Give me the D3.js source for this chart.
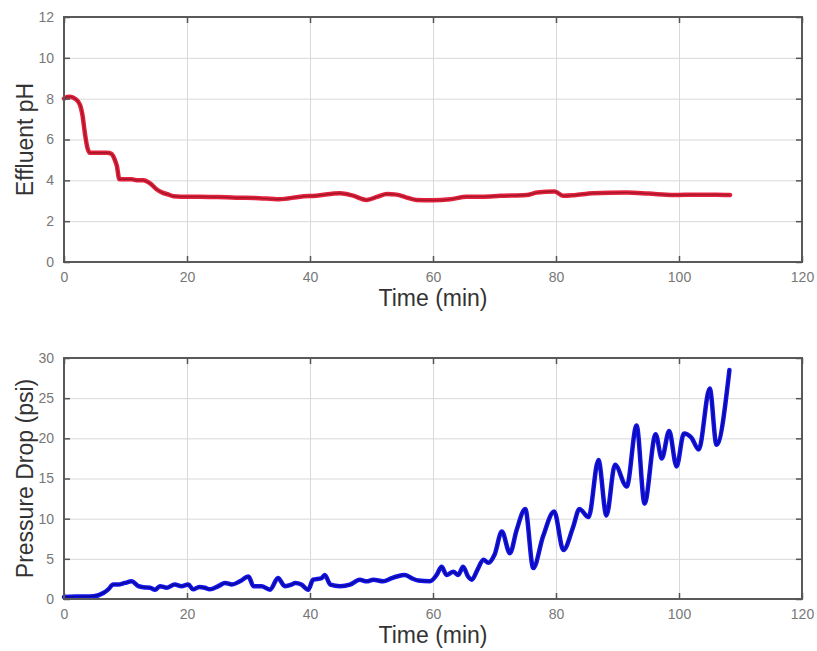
<!DOCTYPE html>
<html>
<head>
<meta charset="utf-8">
<script src="https://cdn.jsdelivr.net/npm/d3@7"></script>
<style>
  body { margin: 0; background: #fff; }
  svg { display: block; font-family: "Liberation Sans", Arial, sans-serif; }
</style>
</head>
<body>
<script>
// effluent pH readings
const phTime = [0, 0.5, 1, 1.8, 2.6, 3.0, 3.4, 3.8, 4.2, 5, 6, 7, 7.7, 8.2, 8.6, 9.0, 10, 11, 12, 12.9,
  14, 15.1, 16, 17, 17.8, 19, 22, 25, 28, 31, 35, 38.4, 41, 44.9, 47, 49.2, 51, 52.5, 54.1, 55.5,
  57.3, 60, 62.8, 65.5, 68, 71, 75.2, 76.9, 79.8, 81.2, 83, 86, 91.5, 95, 99.1, 103, 106, 108.3];
const phValue = [8.0, 8.08, 8.1, 8.0, 7.7, 7.2, 6.3, 5.6, 5.35, 5.35, 5.35, 5.35, 5.3, 5.05, 4.7, 4.05, 4.05, 4.05, 4.0, 4.0,
  3.85, 3.55, 3.4, 3.3, 3.22, 3.2, 3.2, 3.18, 3.15, 3.14, 3.07, 3.2, 3.25, 3.37, 3.25, 3.04, 3.2, 3.33, 3.3, 3.18,
  3.04, 3.02, 3.07, 3.2, 3.2, 3.24, 3.28, 3.4, 3.45, 3.24, 3.27, 3.37, 3.4, 3.35, 3.28, 3.3, 3.3, 3.28];

// pressure drop readings
const dpTime = [0, 2, 4.8, 6.4, 7.2, 8, 8.8, 9.9, 11, 12.1, 12.9, 14, 14.8, 15.6, 16.7, 18, 19.1, 20.2, 21, 22,
  22.9, 23.7, 25.1, 26.2, 27.3, 28.6, 30, 30.8, 32.1, 33.5, 34.8, 35.9, 37, 37.6, 38.6, 39.7, 40.5, 41.9, 42.4, 43.3,
  44.9, 46.5, 48.1, 49.2, 50.3, 51.9, 53.3, 54.1, 55.4, 56.5, 57.6, 59.5, 60.6, 61.4, 62.2, 63.3, 64.1, 64.9, 65.7, 66.3,
  67.2, 68.2, 69, 70, 71.2, 72.5, 73.6, 75, 76.3, 77.9, 79.7, 81.2, 82.8, 83.8, 85.3, 86.9, 88.2, 89.6, 91.5, 93.1,
  94.4, 96.2, 97.2, 98.4, 99.6, 100.8, 102, 103.2, 105, 106.1, 108.2];
const dpValue = [0.25, 0.3, 0.35, 0.75, 1.2, 1.8, 1.8, 2.0, 2.2, 1.6, 1.45, 1.4, 1.15, 1.6, 1.4, 1.8, 1.6, 1.8, 1.2, 1.5,
  1.4, 1.2, 1.6, 2.0, 1.8, 2.2, 2.8, 1.6, 1.6, 1.15, 2.6, 1.6, 1.8, 2.0, 1.8, 1.15, 2.4, 2.6, 3.0, 1.8,
  1.6, 1.8, 2.4, 2.2, 2.4, 2.2, 2.6, 2.8, 3.0, 2.6, 2.3, 2.2, 3.0, 4.0, 3.0, 3.4, 3.0, 4.0, 2.8, 2.4,
  3.6, 4.9, 4.5, 5.5, 8.4, 5.7, 8.6, 11.2, 3.85, 7.8, 10.9, 6.1, 9.0, 11.2, 10.2, 17.3, 10.4, 16.7, 14.0, 21.6,
  11.9, 20.5, 17.5, 20.9, 16.5, 20.6, 20.1, 18.6, 26.2, 19.2, 28.5];

// tick labels
const timeTicks = [0, 20, 40, 60, 80, 100, 120];
const phTicks = [0, 2, 4, 6, 8, 10, 12];
const dpTicks = [0, 5, 10, 15, 20, 25, 30];

const width = 817, height = 651;
const svg = d3.select("body").append("svg")
  .attr("width", width)
  .attr("height", height)
  .attr("viewBox", [0, 0, width, height]);

function drawPanel(p) {
  const x = d3.scaleLinear().domain([0, 120]).range([p.left, p.right]);
  const y = d3.scaleLinear().domain([0, p.yMax]).range([p.bottom, p.top]);
  const g = svg.append("g");

  // grid
  g.append("g")
    .attr("transform", `translate(0,${p.bottom})`)
    .call(d3.axisBottom(x).tickValues(timeTicks).tickSize(-(p.bottom - p.top)).tickFormat(""))
    .call(a => a.select(".domain").remove())
    .call(a => a.selectAll(".tick line").attr("stroke", "#d8d8d8").attr("stroke-width", 1));
  g.append("g")
    .attr("transform", `translate(${p.left},0)`)
    .call(d3.axisLeft(y).tickValues(p.yTicks).tickSize(-(p.right - p.left)).tickFormat(""))
    .call(a => a.select(".domain").remove())
    .call(a => a.selectAll(".tick line").attr("stroke", "#d8d8d8").attr("stroke-width", 1));

  // the data line
  const line = d3.line()
    .x((d, i) => x(p.tx[i]))
    .y(d => y(d))
    .curve(d3.curveMonotoneX);
  g.append("path")
    .datum(p.vals)
    .attr("fill", "none")
    .attr("stroke", p.color)
    .attr("stroke-width", 4.5)
    .attr("stroke-linejoin", "round")
    .attr("stroke-linecap", "round")
    .attr("d", line);
  g.append("path")
    .datum(p.vals)
    .attr("fill", "none")
    .attr("stroke", p.core)
    .attr("stroke-width", 1.4)
    .attr("stroke-opacity", 0.6)
    .attr("stroke-linejoin", "round")
    .attr("d", line);

  // frame
  g.append("rect")
    .attr("x", p.left).attr("y", p.top)
    .attr("width", p.right - p.left).attr("height", p.bottom - p.top)
    .attr("fill", "none")
    .attr("stroke", "#5a5a5a")
    .attr("stroke-width", 2);

  // axes with inward ticks
  const tickStyle = a => {
    a.select(".domain").remove();
    a.selectAll(".tick line").attr("stroke", "#555").attr("stroke-width", 1.5);
    a.selectAll(".tick text").attr("fill", "#777").attr("font-size", 14);
  };
  g.append("g")
    .attr("transform", `translate(0,${p.bottom})`)
    .call(d3.axisBottom(x).tickValues(timeTicks).tickSize(-6).tickPadding(10))
    .call(tickStyle);
  g.append("g")
    .attr("transform", `translate(0,${p.top})`)
    .call(d3.axisTop(x).tickValues(timeTicks).tickSize(-6).tickFormat(""))
    .call(tickStyle);
  g.append("g")
    .attr("transform", `translate(${p.left},0)`)
    .call(d3.axisLeft(y).tickValues(p.yTicks).tickSize(-6).tickPadding(10))
    .call(tickStyle);
  g.append("g")
    .attr("transform", `translate(${p.right},0)`)
    .call(d3.axisRight(y).tickValues(p.yTicks).tickSize(-6).tickFormat(""))
    .call(tickStyle);

  // labels
  g.append("text")
    .attr("x", (p.left + p.right) / 2)
    .attr("y", p.bottom + 44)
    .attr("text-anchor", "middle")
    .attr("font-size", 23)
    .attr("fill", "#333")
    .text("Time (min)");
  g.append("text")
    .attr("transform", `translate(33,${(p.top + p.bottom) / 2}) rotate(-90)`)
    .attr("text-anchor", "middle")
    .attr("font-size", 23)
    .attr("fill", "#333")
    .text(p.yLabel);
}

drawPanel({
  left: 64, right: 802, top: 17, bottom: 262,
  yMax: 12, yTicks: phTicks, yLabel: "Effluent pH",
  tx: phTime, vals: phValue, color: "#e2223c", core: "#7a0e1e"
});

drawPanel({
  left: 64, right: 802, top: 358, bottom: 599,
  yMax: 30, yTicks: dpTicks, yLabel: "Pressure Drop (psi)",
  tx: dpTime, vals: dpValue, color: "#1414e6", core: "#000070"
});
</script>
</body>
</html>
